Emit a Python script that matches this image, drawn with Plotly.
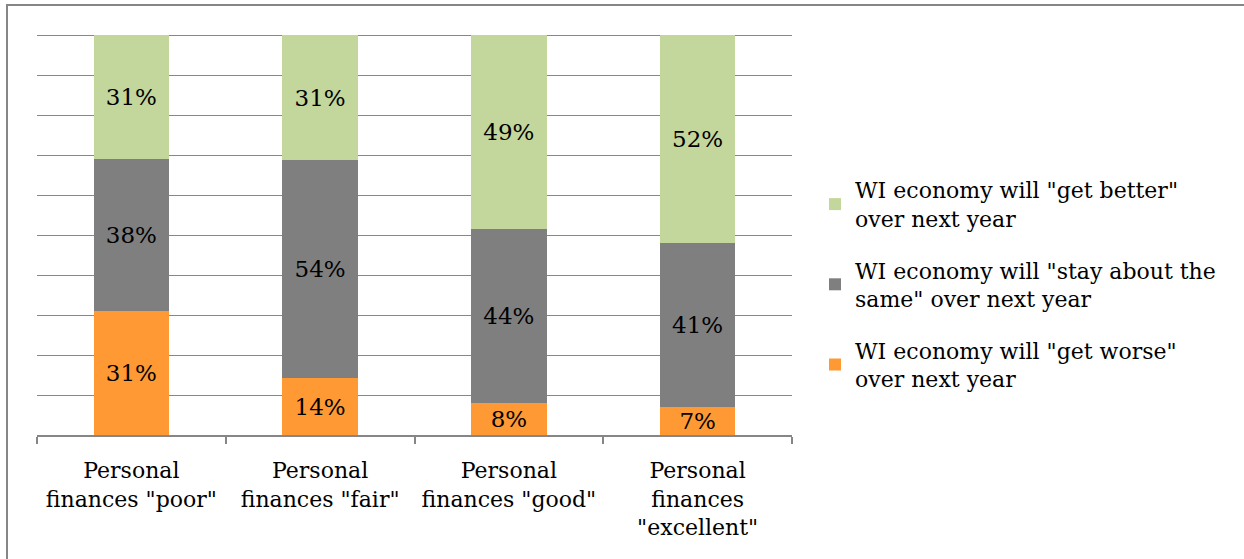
import plotly.graph_objects as go

categories = [
    'Personal<br>finances "poor"',
    'Personal<br>finances "fair"',
    'Personal<br>finances "good"',
    'Personal<br>finances<br>"excellent"',
]
worse = [31, 14, 8, 7]
same = [38, 54, 44, 41]
better = [31, 31, 49, 52]

series = [
    ('WI economy will "get worse"<br>over next year', worse, "#ff9933", "g3", 3),
    ('WI economy will "stay about the<br>same" over next year', same, "#7f7f7f", "g2", 2),
    ('WI economy will "get better"<br>over next year', better, "#c3d69b", "g1", 1),
]

FONT = "DejaVu Serif"

fig = go.Figure()
for name, vals, color, grp, rank in series:
    fig.add_trace(go.Bar(
        x=categories, y=vals, name=name, legendgroup=grp, legendrank=rank,
        marker=dict(color=color, line=dict(width=0)),
        text=[f"{v}%" for v in vals],
        textposition="inside", insidetextanchor="middle", textangle=0,
        textfont=dict(family=FONT, size=23, color="black"),
        hoverinfo="skip",
    ))

W, H = 1244, 559
YMAX = 101.5
L, R, B = 37, 792, 435
T = B - 400 * YMAX / 100  # 100% sits at y=35

fig.update_layout(
    width=W, height=H,
    barmode="stack", barnorm="percent", bargap=0.6,
    margin=dict(l=L, r=W - R, t=T, b=H - B, autoexpand=False),
    paper_bgcolor="white", plot_bgcolor="white",
    font=dict(family=FONT, size=22, color="black"),
    uniformtext=dict(minsize=23, mode="show"),
    showlegend=True,
    legend=dict(
        traceorder="grouped",
        x=(815 - L) / (R - L), xanchor="left",
        y=(B - 169) / (B - T), yanchor="top",
        font=dict(family=FONT, size=22, color="black"),
        tracegroupgap=20,
        bgcolor="rgba(0,0,0,0)",
    ),
    xaxis=dict(
        showline=True, linecolor="#868686", linewidth=1.5,
        ticks="outside", tickson="boundaries", ticklen=7,
        tickcolor="#868686", tickwidth=1.5,
        tickfont=dict(family=FONT, size=22, color="black"),
        ticklabelstandoff=15,
        showgrid=False,
    ),
    yaxis=dict(
        range=[0, YMAX], dtick=10, showticklabels=False,
        showgrid=True, gridcolor="#878787", gridwidth=1.3,
        zeroline=False, showline=False, ticks="",
    ),
    shapes=[dict(
        type="rect", xref="paper", yref="paper",
        x0=(7 - L) / (R - L), x1=2.0,
        y0=-1.0, y1=(B - 5) / (B - T),
        line=dict(color="#868686", width=2), fillcolor="rgba(0,0,0,0)",
        layer="below",
    )],
)

fig.write_html(
    "out.html",
    config={"displayModeBar": False},
    post_script="document.body.style.margin='0';",
)
